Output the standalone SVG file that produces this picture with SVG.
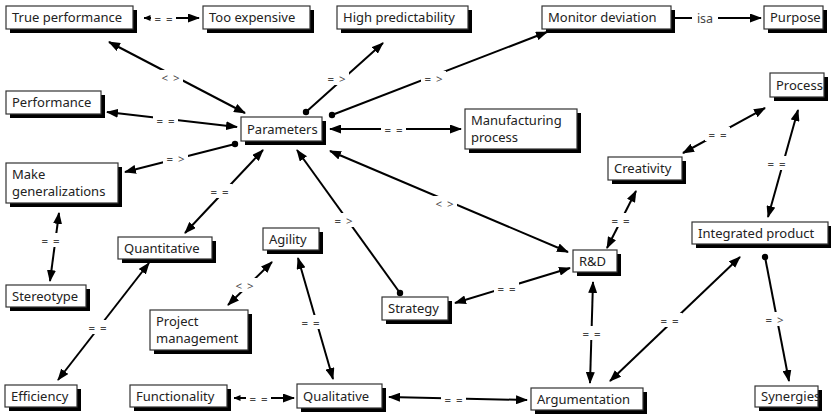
<svg xmlns="http://www.w3.org/2000/svg" width="831" height="414" viewBox="0 0 831 414">
<style>
.sh{fill:#000}
.bx{fill:#fff;stroke:#333;stroke-width:1.2}
.nt{font-family:"Noto Sans",sans-serif;font-size:13px;fill:#222}
.ln{stroke:#000;stroke-width:2;fill:none}
.lb{font-family:"Noto Sans",sans-serif;font-size:11.5px;letter-spacing:1px;fill:#444;text-anchor:middle;dominant-baseline:central}
.lbg{fill:#fff}
</style>
<defs>
<marker id="a" markerUnits="userSpaceOnUse" markerWidth="12" markerHeight="9" refX="11" refY="4.5" orient="auto-start-reverse"><path d="M0,0 L12,4.5 L0,9 z" fill="#000"/></marker>
<marker id="s" markerUnits="userSpaceOnUse" markerWidth="7" markerHeight="6" refX="6.5" refY="3" orient="auto-start-reverse"><path d="M0,0 L7,3 L0,6 z" fill="#000"/></marker>
<marker id="d" markerUnits="userSpaceOnUse" markerWidth="8" markerHeight="8" refX="4" refY="4"><circle cx="4" cy="4" r="3.2" fill="#000"/></marker>
</defs>
<g id="connectors">
<line class="ln" x1="144" y1="18" x2="199" y2="18" marker-start="url(#s)" marker-end="url(#a)"/>
<rect class="lbg" x="151" y="11" width="25" height="14"/><text class="lb" x="164" y="18">= =</text>
<line class="ln" x1="109" y1="42" x2="245" y2="113" marker-start="url(#a)" marker-end="url(#a)"/>
<rect class="lbg" x="158" y="70" width="25" height="14"/><text class="lb" x="171" y="77">&lt; &gt;</text>
<line class="ln" x1="107" y1="112" x2="237" y2="127" marker-start="url(#a)" marker-end="url(#a)"/>
<rect class="lbg" x="153" y="113" width="25" height="14"/><text class="lb" x="166" y="120">= =</text>
<line class="ln" x1="306" y1="112" x2="383" y2="43" marker-start="url(#d)" marker-end="url(#a)"/>
<rect class="lbg" x="324" y="71" width="25" height="14"/><text class="lb" x="337" y="78">= &gt;</text>
<line class="ln" x1="332" y1="115" x2="547" y2="32" marker-start="url(#d)" marker-end="url(#a)"/>
<rect class="lbg" x="421" y="71" width="25" height="14"/><text class="lb" x="434" y="78">= &gt;</text>
<line class="ln" x1="675" y1="18" x2="761" y2="18" marker-end="url(#a)"/>
<rect class="lbg" x="692" y="10" width="26" height="16"/><text class="lb" x="705" y="18" style="font-size:12.5px;letter-spacing:0">isa</text>
<line class="ln" x1="330" y1="129" x2="461" y2="129" marker-start="url(#a)" marker-end="url(#a)"/>
<rect class="lbg" x="381" y="122" width="25" height="14"/><text class="lb" x="394" y="129">= =</text>
<line class="ln" x1="235" y1="144" x2="125" y2="172" marker-start="url(#d)" marker-end="url(#a)"/>
<rect class="lbg" x="163" y="151" width="25" height="14"/><text class="lb" x="176" y="158">= &gt;</text>
<line class="ln" x1="263" y1="150" x2="185" y2="233" marker-start="url(#a)" marker-end="url(#a)"/>
<rect class="lbg" x="207" y="184" width="25" height="14"/><text class="lb" x="220" y="191">= =</text>
<line class="ln" x1="59" y1="213" x2="50" y2="281" marker-start="url(#a)" marker-end="url(#a)"/>
<rect class="lbg" x="40" y="233" width="25" height="14"/><text class="lb" x="51" y="240">= =</text>
<line class="ln" x1="149" y1="263" x2="58" y2="380" marker-start="url(#a)" marker-end="url(#a)"/>
<rect class="lbg" x="85" y="320" width="25" height="14"/><text class="lb" x="98" y="327">= =</text>
<line class="ln" x1="272" y1="262" x2="228" y2="305" marker-start="url(#a)" marker-end="url(#a)"/>
<rect class="lbg" x="232" y="278" width="25" height="14"/><text class="lb" x="245" y="285">&lt; &gt;</text>
<line class="ln" x1="400" y1="293" x2="297" y2="150" marker-start="url(#d)" marker-end="url(#a)"/>
<rect class="lbg" x="331" y="213" width="25" height="14"/><text class="lb" x="344" y="220">= &gt;</text>
<line class="ln" x1="330" y1="151" x2="568" y2="252" marker-start="url(#a)" marker-end="url(#a)"/>
<rect class="lbg" x="432" y="196" width="25" height="14"/><text class="lb" x="445" y="203">&lt; &gt;</text>
<line class="ln" x1="298" y1="258" x2="333" y2="379" marker-start="url(#a)" marker-end="url(#a)"/>
<rect class="lbg" x="298" y="315" width="25" height="14"/><text class="lb" x="311" y="322">= =</text>
<line class="ln" x1="455" y1="303" x2="570" y2="268" marker-start="url(#a)" marker-end="url(#a)"/>
<rect class="lbg" x="494" y="281" width="25" height="14"/><text class="lb" x="507" y="288">= =</text>
<line class="ln" x1="234" y1="398" x2="294" y2="398" marker-start="url(#s)" marker-end="url(#a)"/>
<rect class="lbg" x="246" y="391" width="25" height="14"/><text class="lb" x="259" y="398">= =</text>
<line class="ln" x1="389" y1="397" x2="527" y2="400" marker-start="url(#a)" marker-end="url(#a)"/>
<rect class="lbg" x="441" y="392" width="25" height="14"/><text class="lb" x="454" y="399">= =</text>
<line class="ln" x1="593" y1="282" x2="590" y2="383" marker-start="url(#a)" marker-end="url(#a)"/>
<rect class="lbg" x="579" y="326" width="25" height="14"/><text class="lb" x="592" y="333">= =</text>
<line class="ln" x1="610" y1="381" x2="740" y2="257" marker-start="url(#a)" marker-end="url(#a)"/>
<rect class="lbg" x="657" y="313" width="25" height="14"/><text class="lb" x="670" y="320">= =</text>
<line class="ln" x1="765" y1="257" x2="789" y2="381" marker-start="url(#d)" marker-end="url(#a)"/>
<rect class="lbg" x="762" y="312" width="25" height="14"/><text class="lb" x="775" y="319">= &gt;</text>
<line class="ln" x1="607" y1="248" x2="636" y2="191" marker-start="url(#a)" marker-end="url(#a)"/>
<rect class="lbg" x="608" y="213" width="25" height="14"/><text class="lb" x="621" y="220">= =</text>
<line class="ln" x1="683" y1="153" x2="765" y2="108" marker-start="url(#a)" marker-end="url(#a)"/>
<rect class="lbg" x="705" y="127" width="25" height="14"/><text class="lb" x="718" y="134">= =</text>
<line class="ln" x1="798" y1="110" x2="768" y2="217" marker-start="url(#a)" marker-end="url(#a)"/>
<rect class="lbg" x="764" y="156" width="25" height="14"/><text class="lb" x="777" y="163">= =</text>
</g>
<g id="n-trueperf"><rect class="sh" x="10" y="10" width="127" height="23"/><rect class="bx" x="6" y="6" width="127" height="23"/><text class="nt" x="12" y="22">True performance</text></g>
<g id="n-tooexp"><rect class="sh" x="207" y="10" width="107" height="23"/><rect class="bx" x="203" y="6" width="107" height="23"/><text class="nt" x="209" y="22">Too expensive</text></g>
<g id="n-highpred"><rect class="sh" x="341" y="10" width="131" height="23"/><rect class="bx" x="337" y="6" width="131" height="23"/><text class="nt" x="343" y="22">High predictability</text></g>
<g id="n-monitor"><rect class="sh" x="546" y="10" width="129" height="23"/><rect class="bx" x="542" y="6" width="129" height="23"/><text class="nt" x="548" y="22">Monitor deviation</text></g>
<g id="n-purpose"><rect class="sh" x="768" y="10" width="59" height="23"/><rect class="bx" x="764" y="6" width="59" height="23"/><text class="nt" x="770" y="22">Purpose</text></g>
<g id="n-performance"><rect class="sh" x="10" y="95" width="95" height="23"/><rect class="bx" x="6" y="91" width="95" height="23"/><text class="nt" x="12" y="107">Performance</text></g>
<g id="n-parameters"><rect class="sh" x="245" y="121" width="81" height="24"/><rect class="bx" x="241" y="117" width="81" height="24"/><text class="nt" x="247" y="134">Parameters</text></g>
<g id="n-manufacturing"><rect class="sh" x="469" y="113" width="112" height="40"/><rect class="bx" x="465" y="109" width="112" height="40"/><text class="nt" x="471" y="125">Manufacturing</text><text class="nt" x="471" y="142">process</text></g>
<g id="n-process"><rect class="sh" x="774" y="77" width="54" height="24"/><rect class="bx" x="770" y="73" width="54" height="24"/><text class="nt" x="776" y="90">Process</text></g>
<g id="n-makegen"><rect class="sh" x="10" y="167" width="112" height="40"/><rect class="bx" x="6" y="163" width="112" height="40"/><text class="nt" x="12" y="179">Make</text><text class="nt" x="12" y="196">generalizations</text></g>
<g id="n-quantitative"><rect class="sh" x="122" y="241" width="94" height="22"/><rect class="bx" x="118" y="237" width="94" height="22"/><text class="nt" x="124" y="253">Quantitative</text></g>
<g id="n-agility"><rect class="sh" x="267" y="232" width="56" height="22"/><rect class="bx" x="263" y="228" width="56" height="22"/><text class="nt" x="269" y="244">Agility</text></g>
<g id="n-creativity"><rect class="sh" x="612" y="161" width="74" height="23"/><rect class="bx" x="608" y="157" width="74" height="23"/><text class="nt" x="614" y="173">Creativity</text></g>
<g id="n-integrated"><rect class="sh" x="696" y="226" width="136" height="22"/><rect class="bx" x="692" y="222" width="136" height="22"/><text class="nt" x="698" y="238">Integrated product</text></g>
<g id="n-rd"><rect class="sh" x="577" y="254" width="44" height="22"/><rect class="bx" x="573" y="250" width="44" height="22"/><text class="nt" x="579" y="266">R&amp;D</text></g>
<g id="n-stereotype"><rect class="sh" x="10" y="289" width="80" height="22"/><rect class="bx" x="6" y="285" width="80" height="22"/><text class="nt" x="12" y="301">Stereotype</text></g>
<g id="n-projmgmt"><rect class="sh" x="154" y="314" width="98" height="40"/><rect class="bx" x="150" y="310" width="98" height="40"/><text class="nt" x="156" y="326">Project</text><text class="nt" x="156" y="343">management</text></g>
<g id="n-strategy"><rect class="sh" x="386" y="301" width="66" height="23"/><rect class="bx" x="382" y="297" width="66" height="23"/><text class="nt" x="388" y="313">Strategy</text></g>
<g id="n-efficiency"><rect class="sh" x="9" y="389" width="72" height="22"/><rect class="bx" x="5" y="385" width="72" height="22"/><text class="nt" x="11" y="401">Efficiency</text></g>
<g id="n-functionality"><rect class="sh" x="134" y="389" width="97" height="22"/><rect class="bx" x="130" y="385" width="97" height="22"/><text class="nt" x="136" y="401">Functionality</text></g>
<g id="n-qualitative"><rect class="sh" x="301" y="388" width="85" height="24"/><rect class="bx" x="297" y="384" width="85" height="24"/><text class="nt" x="303" y="401">Qualitative</text></g>
<g id="n-argumentation"><rect class="sh" x="535" y="392" width="112" height="22"/><rect class="bx" x="531" y="388" width="112" height="22"/><text class="nt" x="537" y="404">Argumentation</text></g>
<g id="n-synergies"><rect class="sh" x="759" y="390" width="63" height="21"/><rect class="bx" x="755" y="386" width="63" height="21"/><text class="nt" x="761" y="401">Synergies</text></g>
</svg>
